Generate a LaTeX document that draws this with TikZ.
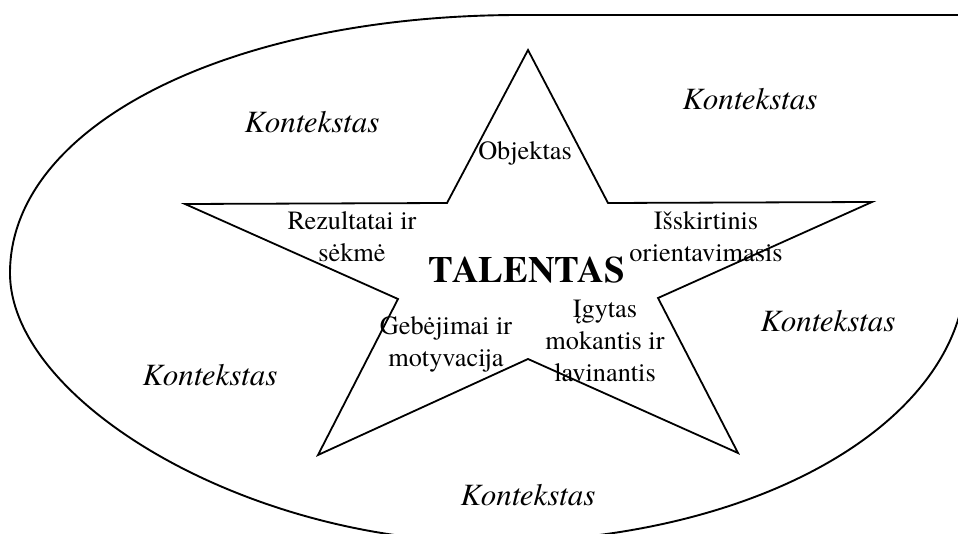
\documentclass[tikz,border=0pt]{standalone}
\usepackage{fontspec}
\setmainfont{TeX Gyre Termes}
\begin{document}
\begin{tikzpicture}[x=1pt,y=-1pt,
  outline/.style={line width=1.9pt},
  starline/.style={line width=1.8pt, line join=miter, miter limit=20},
  ctx/.style={font=\fontsize{31}{36}\selectfont\itshape, anchor=base, inner sep=0pt},
  lbl/.style={font=\fontsize{26.3}{32}\selectfont, anchor=base, inner sep=0pt},
  ttl/.style={font=\fontsize{37}{42}\selectfont\bfseries, anchor=base, inner sep=0pt}]
\useasboundingbox (0,0) rectangle (958,534);
\begin{scope}
\clip (0,0) rectangle (958,534);
\draw[outline] (980,15) -- (520,15)
  .. controls (230,15) and (10,125) .. (10,273)
  .. controls (10,400) and (245,542) .. (490,542)
  .. controls (752,542) and (962,425) .. (966,273)
  -- (980,273) -- cycle;
\end{scope}
% star
\draw[starline] (528,50) -- (608,203) -- (872,202) -- (658,298) -- (738,453)
  -- (528,359) -- (318,455) -- (398,299) -- (185,204) -- (447,203) -- cycle;
% context labels
\node[ctx] (k1) at (312,133) {Kontekstas};
\node[ctx] (k2) at (750,110) {Kontekstas};
\node[ctx] (k3) at (828,332) {Kontekstas};
\node[ctx] (k4) at (210,385) {Kontekstas};
\node[ctx] (k5) at (528,505) {Kontekstas};
% inner labels
\node[lbl] (obj) at (525,160) {Objektas};
\node[lbl] (rez) at (352,230) {\begin{tabular}[t]{@{}c@{}}Rezultatai ir\\sėkmė\end{tabular}};
\node[lbl] (iss) at (706,230) {\begin{tabular}[t]{@{}c@{}}Išskirtinis\\orientavimasis\end{tabular}};
\node[ttl] (tal) at (527,283) {TALENTAS};
\node[lbl] (geb) at (446,335) {\begin{tabular}[t]{@{}c@{}}Gebėjimai ir\\motyvacija\end{tabular}};
\node[lbl] (igy) at (605,318) {\begin{tabular}[t]{@{}c@{}}Įgytas\\mokantis ir\\lavinantis\end{tabular}};
\end{tikzpicture}
\end{document}
